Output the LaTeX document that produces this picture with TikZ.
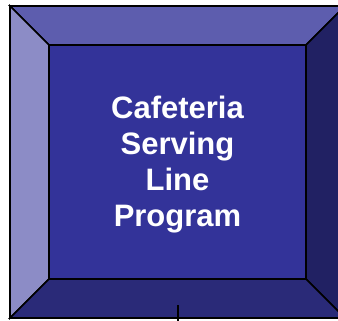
\documentclass[tikz,border=0pt]{standalone}
\usepackage{fontspec}
\setmainfont{Liberation Sans}
\definecolor{faceblue}{HTML}{333399}
\definecolor{topblue}{HTML}{5D5DAE}
\definecolor{leftblue}{HTML}{8C8CC6}
\definecolor{rightblue}{HTML}{212163}
\definecolor{bottomblue}{HTML}{2A2A78}
\tikzset{
  bevel/.style={draw=black, line width=1.6pt, line join=miter},
  caption/.style={text=white, align=center, inner sep=0pt,
    font=\fontsize{31}{36}\selectfont\bfseries}
}
\begin{document}
\begin{tikzpicture}[x=1pt,y=-1pt]
            \useasboundingbox (0,0) rectangle (338,321);
            \clip (0,0) rectangle (338,321);

            \coordinate (OTL) at (10,6);
            \coordinate (OTR) at (345,6);
            \coordinate (OBR) at (345,318);
            \coordinate (OBL) at (10,318);

            \coordinate (ITL) at (49,45);
            \coordinate (ITR) at (306,45);
            \coordinate (IBR) at (306,279);
            \coordinate (IBL) at (49,279);

            \filldraw[bevel, fill=topblue] (OTL) -- (OTR) -- (ITR) -- (ITL) -- cycle;
            \filldraw[bevel, fill=leftblue] (OTL) -- (ITL) -- (IBL) -- (OBL) -- cycle;
            \filldraw[bevel, fill=rightblue] (ITR) -- (OTR) -- (OBR) -- (IBR) -- cycle;
            \filldraw[bevel, fill=bottomblue] (IBL) -- (IBR) -- (OBR) -- (OBL) -- cycle;
            \filldraw[bevel, fill=faceblue] (ITL) rectangle (IBR);

            \node[caption] (title) at (177.5,164.5) {Cafeteria\\Serving\\Line\\Program};

            \coordinate (tickTop) at (178,305);
            \coordinate (tickEnd) at (178,321);
            \draw[line width=1.8pt] (tickTop) -- (tickEnd);
\end{tikzpicture}
\end{document}
